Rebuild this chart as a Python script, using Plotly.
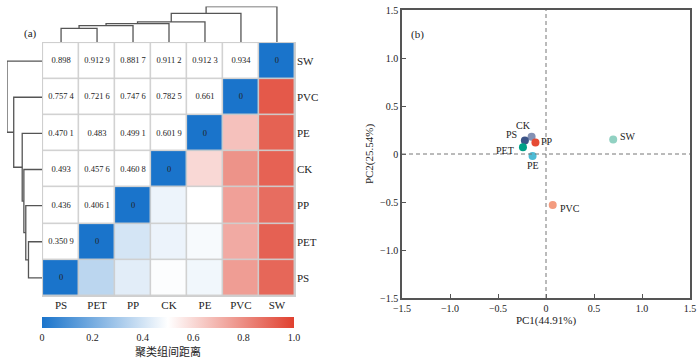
import plotly.graph_objects as go

# ---------------- data ----------------
labels = ["PS", "PET", "PP", "CK", "PE", "PVC", "SW"]
# lower-triangle distances: each row vs. the earlier labels (in `labels` order)
d_PET = [0.3509]
d_PP = [0.436, 0.4061]
d_CK = [0.493, 0.4576, 0.4608]
d_PE = [0.4701, 0.483, 0.4991, 0.6019]
d_PVC = [0.7574, 0.7216, 0.7476, 0.7825, 0.661]
d_SW = [0.898, 0.9129, 0.8817, 0.9112, 0.9123, 0.934]

cbar_vals = [0, 0.2, 0.4, 0.6, 0.8, 1.0]
cbar_text = ["0", "0.2", "0.4", "0.6", "0.8", "1.0"]

pca_labels = ["CK", "PS", "PP", "PET", "PE", "SW", "PVC"]
pc1 = [-0.15, -0.22, -0.11, -0.24, -0.14, 0.70, 0.07]
pc2 = [0.18, 0.14, 0.12, 0.07, -0.02, 0.15, -0.53]
pca_colors = ["#8491B4", "#3C5488", "#E64B35", "#00A087", "#4DBBD5", "#91D1C2", "#F39B7F"]
pc_ticks = [-1.5, -1.0, -0.5, 0, 0.5, 1.0, 1.5]
pc_ticktext = ["\u22121.5", "\u22121.0", "\u22120.5", "0", "0.5", "1.0", "1.5"]

# label offsets (pixels) for the PCA point labels
lab_dx = [-8, -13, 12, -18, 0, 15, 17]
lab_dy = [11, 6, 1, -3, -10, 3, -4]

# ---------------- full distance matrix ----------------
n = len(labels)
lower = [[], d_PET, d_PP, d_CK, d_PE, d_PVC, d_SW]
D = [[0.0] * n for _ in range(n)]
for i in range(n):
    for j, v in enumerate(lower[i]):
        D[i][j] = v
        D[j][i] = v


def fmt(v):
    if v == 0:
        return "0"
    s = f"{v:.4f}".rstrip("0")
    ip, dp = s.split(".")
    if len(dp) > 3:
        dp = dp[:3] + " " + dp[3:]
    return ip + "." + dp


# ---------------- UPGMA (average linkage) dendrogram ----------------
clusters = {i: [i] for i in range(n)}
pos = {i: float(i) for i in range(n)}
hgt = {i: 0.0 for i in range(n)}
segs = []
nid = n
while len(clusters) > 1:
    keys = list(clusters)
    best = None
    for a_i in range(len(keys)):
        for b_i in range(a_i + 1, len(keys)):
            a, b = keys[a_i], keys[b_i]
            vals = [D[p][q] for p in clusters[a] for q in clusters[b]]
            avg = sum(vals) / len(vals)
            if best is None or avg < best[0]:
                best = (avg, a, b)
    h, a, b = best
    segs.append(([pos[a], pos[a], pos[b], pos[b]], [hgt[a], h, h, hgt[b]]))
    clusters[nid] = clusters.pop(a) + clusters.pop(b)
    pos[nid] = (pos[a] + pos[b]) / 2
    hgt[nid] = h
    nid += 1
maxh = max(hgt.values())

fig = go.Figure()

# gray background behind cells -> grid lines
fig.add_shape(type="rect", xref="x", yref="y", x0=-0.53, x1=6.53, y0=-0.53, y1=6.53,
              fillcolor="#cfcfcf", line_width=0, layer="below")

z_col = [[D[r][c] if c >= r else None for c in range(n)] for r in range(n)]
z_white = [[D[r][c] if c < r else None for c in range(n)] for r in range(n)]

fig.add_trace(go.Heatmap(
    z=z_col, x=list(range(n)), y=list(range(n)), zmin=0, zmax=1,
    colorscale=[[0, "#1a74cb"], [0.5, "#ffffff"], [1, "#e0402f"]],
    xgap=1.5, ygap=1.5, hoverinfo="skip",
    colorbar=dict(orientation="h", x=42 / 700, xanchor="left", len=252 / 700, lenmode="fraction",
                  y=1 - 317 / 362, yanchor="top", thickness=11, outlinewidth=0,
                  xpad=0, ypad=0, tickvals=cbar_vals, ticktext=cbar_text, ticks="",
                  tickfont=dict(size=10),
                  title=dict(text="聚类组间距离", side="bottom", font=dict(size=11))),
    xaxis="x", yaxis="y"))
fig.add_trace(go.Heatmap(
    z=z_white, x=list(range(n)), y=list(range(n)), zmin=0, zmax=1,
    colorscale=[[0, "#ffffff"], [1, "#ffffff"]], showscale=False,
    xgap=1.5, ygap=1.5, hoverinfo="skip", xaxis="x", yaxis="y"))

tx, ty, tt = [], [], []
for r in range(n):
    for c in range(n):
        if c <= r:
            tx.append(c)
            ty.append(r)
            tt.append(fmt(D[r][c]))
fig.add_trace(go.Scatter(x=tx, y=ty, text=tt, mode="text",
                         textfont=dict(size=8.5, color="#222"), hoverinfo="skip",
                         xaxis="x", yaxis="y"))

# dendrograms
for xs, hs in segs:
    fig.add_trace(go.Scatter(x=xs, y=hs, mode="lines", line=dict(color="#555", width=1.3),
                             hoverinfo="skip", xaxis="x2", yaxis="y2"))
    fig.add_trace(go.Scatter(x=hs, y=xs, mode="lines", line=dict(color="#555", width=1.3),
                             hoverinfo="skip", xaxis="x3", yaxis="y3"))

# PCA
fig.add_trace(go.Scatter(x=pc1, y=pc2, mode="markers",
                         marker=dict(size=8, color=pca_colors), hoverinfo="skip",
                         xaxis="x4", yaxis="y4"))

annotations = [
    dict(text="(a)", x=22 / 700, y=1 - 25 / 362, xref="paper", yref="paper",
         showarrow=False, font=dict(size=11)),
    dict(text="(b)", x=417 / 700, y=1 - 26 / 362, xref="paper", yref="paper",
         showarrow=False, font=dict(size=11)),
]
for i, lab in enumerate(pca_labels):
    annotations.append(dict(text=lab, x=pc1[i], y=pc2[i], xref="x4", yref="y4",
                            xshift=lab_dx[i], yshift=lab_dy[i], showarrow=False,
                            font=dict(size=10, color="#222")))

fig.add_shape(type="line", xref="x4", yref="y4 domain", x0=0, x1=0, y0=0, y1=1,
              line=dict(color="#777", width=1, dash="4px,3px"))
fig.add_shape(type="line", xref="x4 domain", yref="y4", x0=0, x1=1, y0=0, y1=0,
              line=dict(color="#777", width=1, dash="4px,3px"))

hm_x = [42 / 700, 296 / 700]
hm_y = [1 - 297 / 362, 1 - 42 / 362]
rng = [-0.53, 6.53]

axis_pca = dict(range=[-1.5, 1.5], tickvals=pc_ticks, ticktext=pc_ticktext,
                ticks="inside", ticklen=4, tickcolor="#555", showline=True, mirror=True,
                linecolor="#555", linewidth=1.5, showgrid=False, zeroline=False,
                tickfont=dict(size=10), automargin=False)

fig.update_layout(
    width=700, height=362, margin=dict(l=0, r=0, t=0, b=0, autoexpand=False),
    plot_bgcolor="white", paper_bgcolor="white", showlegend=False,
    font=dict(family="Liberation Serif, Times New Roman, Noto Sans CJK SC", color="#222"),
    xaxis=dict(domain=hm_x, range=rng, tickvals=list(range(n)), ticktext=labels,
               showgrid=False, zeroline=False, ticks="", tickfont=dict(size=11), automargin=False),
    yaxis=dict(domain=hm_y, range=rng, tickvals=list(range(n)), ticktext=labels, side="right",
               showgrid=False, zeroline=False, ticks="", tickfont=dict(size=11), automargin=False),
    xaxis2=dict(domain=hm_x, range=rng, visible=False),
    yaxis2=dict(domain=[hm_y[1], 1 - 6.5 / 362], range=[0, maxh], visible=False),
    xaxis3=dict(domain=[7 / 700, 42 / 700], range=[maxh, 0], visible=False),
    yaxis3=dict(domain=hm_y, range=rng, visible=False),
    xaxis4=dict(domain=[402 / 700, 690 / 700], anchor="y4",
                title=dict(text="PC1(44.91%)", font=dict(size=11), standoff=4), **axis_pca),
    yaxis4=dict(domain=[1 - 298 / 362, 1 - 10 / 362], anchor="x4",
                title=dict(text="PC2(25.54%)", font=dict(size=11), standoff=4), **axis_pca),
    annotations=annotations,
)

fig.write_html("out.html", config={"displayModeBar": False},
               post_script="document.body.style.margin='0';document.body.style.overflow='hidden';")
